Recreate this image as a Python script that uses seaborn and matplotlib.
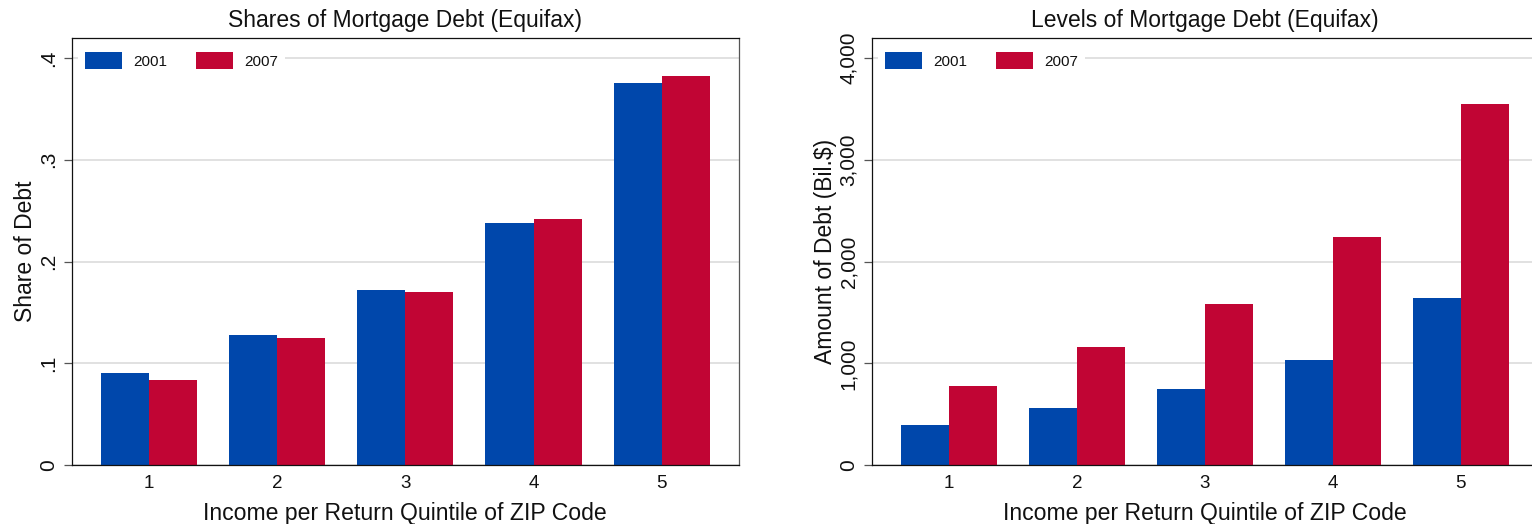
import matplotlib
matplotlib.use("Agg")
import matplotlib.pyplot as plt
import numpy as np
import pandas as pd
import seaborn as sns

# ---------------- data ----------------
quintiles = ["1", "2", "3", "4", "5"]
years = ["2001", "2007"]
share_2001 = [0.090, 0.128, 0.172, 0.238, 0.375]
share_2007 = [0.0835, 0.125, 0.170, 0.242, 0.382]
level_2001 = [391, 558, 752, 1037, 1638]
level_2007 = [775, 1158, 1579, 2244, 3550]

share_ticks = [0, 0.1, 0.2, 0.3, 0.4]
share_ticklabels = ["0", ".1", ".2", ".3", ".4"]
level_ticks = [0, 1000, 2000, 3000, 4000]
level_ticklabels = ["0", "1,000", "2,000", "3,000", "4,000"]

titles = ["Shares of Mortgage Debt (Equifax)", "Levels of Mortgage Debt (Equifax)"]
ylabels = ["Share of Debt", "Amount of Debt (Bil.$)"]
xlabel = "Income per Return Quintile of ZIP Code"

bar_colors = ["#0047AB", "#C10534"]

df_share = pd.DataFrame({
    "quintile": quintiles * 2,
    "year": [years[0]] * 5 + [years[1]] * 5,
    "value": share_2001 + share_2007,
})
df_level = pd.DataFrame({
    "quintile": quintiles * 2,
    "year": [years[0]] * 5 + [years[1]] * 5,
    "value": level_2001 + level_2007,
})

# ---------------- figure ----------------
sns.set_theme(style="white")
plt.rcParams["font.family"] = ["Liberation Sans", "DejaVu Sans"]

W, H = 1532, 524
fig = plt.figure(figsize=(W / 100, H / 100), dpi=100)
fig.patch.set_facecolor("white")

ax1 = fig.add_axes([72 / W, (H - 465) / H, 666.7 / W, 427 / H])
ax2 = fig.add_axes([872 / W, (H - 465) / H, 665.6 / W, 427 / H])

panels = [
    (ax1, df_share, (0, 0.4197), share_ticks, share_ticklabels),
    (ax2, df_level, (0, 4198), level_ticks, level_ticklabels),
]

for i, (ax, df, ylim, ticks, ticklabels) in enumerate(panels):
    sns.barplot(data=df, x="quintile", y="value", hue="year",
                order=quintiles, hue_order=years, palette=bar_colors,
                saturation=1, width=0.75, errorbar=None, linewidth=0,
                ax=ax)
    ax.set_xlim(-0.6, 4.6)
    ax.set_ylim(*ylim)
    ax.set_yticks(ticks)
    ax.set_yticklabels(ticklabels)
    for lab in ax.get_yticklabels():
        lab.set_rotation(90)
        lab.set_va("center")
        lab.set_ha("right")

    ax.set_axisbelow(True)
    ax.yaxis.grid(True, color="#dcdcdc", linewidth=1.2)
    ax.xaxis.grid(False)

    for s in ["left", "bottom", "top", "right"]:
        ax.spines[s].set_visible(True)
        ax.spines[s].set_color("#111111")
        ax.spines[s].set_linewidth(0.9)
    ax.spines["right"].set_color("#555555")

    ax.tick_params(axis="y", left=True, length=6, width=0.9, color="#555555",
                   pad=4, labelsize=15, labelcolor="#111111")
    ax.tick_params(axis="x", bottom=False, length=0, pad=7,
                   labelsize=13.5, labelcolor="#111111")

    ax.set_title(titles[i], fontsize=16.5, color="#111111", pad=8)
    ax.set_xlabel(xlabel, fontsize=16.6, color="#111111", va="top")
    ax.xaxis.set_label_coords(0.5, -0.087)
    ax.set_ylabel(ylabels[i], fontsize=16.5, color="#111111")
    ax.yaxis.set_label_coords(-0.053, 0.5)

    sns.move_legend(ax, loc="upper left", bbox_to_anchor=(0.009, 0.984),
                    ncol=2, title=None, frameon=True, fontsize=11,
                    handlelength=2.42, handleheight=1.4, handletextpad=0.72,
                    columnspacing=1.9, borderpad=0.45, borderaxespad=0)
    leg = ax.get_legend()
    leg.get_frame().set_facecolor("white")
    leg.get_frame().set_edgecolor("none")
    leg.get_frame().set_alpha(1)
    leg.get_frame().set_boxstyle("square", pad=0)
    for t in leg.get_texts():
        t.set_color("#111111")

fig.savefig("out.png", dpi=100, facecolor="white")
